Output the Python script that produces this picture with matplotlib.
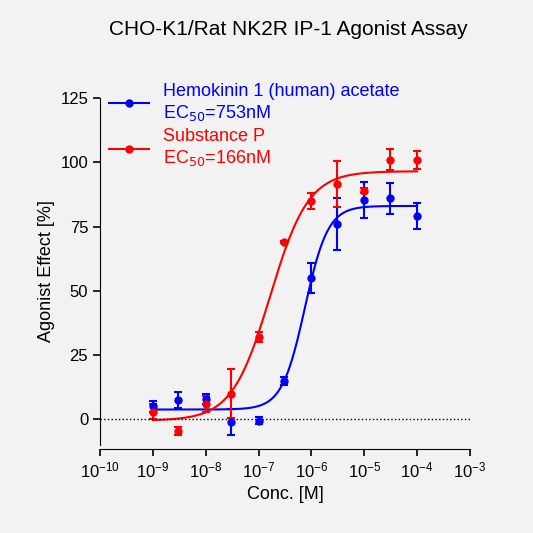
import numpy as np
import matplotlib.pyplot as plt
plt.rcParams['font.family'] = ['Liberation Sans', 'DejaVu Sans']

conc = [1e-9, 3e-9, 1e-8, 3e-8, 1e-7, 3e-7, 1e-6, 3e-6, 1e-5, 3e-5, 1e-4]
hk_y = [5, 7.5, 8, -1, -0.5, 15, 55, 76, 85.5, 86, 79]
hk_err = [2, 3, 2, 5, 1.5, 1.5, 6, 10, 7, 6, 5]
sp_y = [3, -4.5, 6, 10, 32, 69, 85, 91.5, 89, 101, 101]
sp_err = [3, 1.5, 3, 9.5, 2, 0.5, 3, 9, 1, 4, 3.5]
hk_fit = dict(bottom=3.8, top=83, ec50=753e-9, hill=2.0)
sp_fit = dict(bottom=-0.5, top=96.5, ec50=166e-9, hill=1.2)

bg = '#f2f2f2'
fig = plt.figure(figsize=(5.33, 5.33), dpi=100, facecolor=bg)
ax = fig.add_axes([100/533, 1-445/533, 370/533, (445-98)/533], facecolor=bg)

def curve(p, x):
    return p['bottom'] + (p['top']-p['bottom'])/(1+(p['ec50']/x)**p['hill'])

xs = np.logspace(-9, -4, 400)
for y, e, p, c, lab in [(hk_y, hk_err, hk_fit, 'blue', 'Hemokinin 1 (human) acetate\nEC$_{50}$=753nM'),
                        (sp_y, sp_err, sp_fit, 'red', 'Substance P\nEC$_{50}$=166nM')]:
    ax.plot(xs, curve(p, xs), color=c, lw=1.5, label=lab, marker='o', markevery=[], ms=5)
    ax.errorbar(conc, y, yerr=e, fmt='o', color=c, ms=5, capsize=3, elinewidth=1.5, capthick=1.5)

ax.set_xscale('log')
ax.set_xlim(1e-10, 1e-3)
ax.set_ylim(-10, 125)
ax.set_yticks([0, 25, 50, 75, 100, 125])
ax.set_xticks([10.0**k for k in range(-10, -2)])
ax.axhline(0, color='black', ls=':', lw=1)
for s in ['top', 'right']:
    ax.spines[s].set_visible(False)
ax.spines['bottom'].set_position(('outward', 3))
ax.tick_params(labelsize=12, width=1.2, length=5)
ax.tick_params(which='minor', length=0)
ax.set_xlabel('Conc. [M]', fontsize=13)
ax.set_ylabel('Agonist Effect [%]', fontsize=13)
fig.text(0.54, 0.935, 'CHO-K1/Rat NK2R IP-1 Agonist Assay', ha='center', fontsize=15)
leg = ax.legend(loc='upper left', bbox_to_anchor=(-0.02, 1.09), frameon=False, fontsize=13,
                handlelength=2.2, labelspacing=0.3)
for t, c in zip(leg.get_texts(), ['blue', 'red']):
    t.set_color(c)
fig.savefig('out.png', dpi=100, facecolor=bg)
